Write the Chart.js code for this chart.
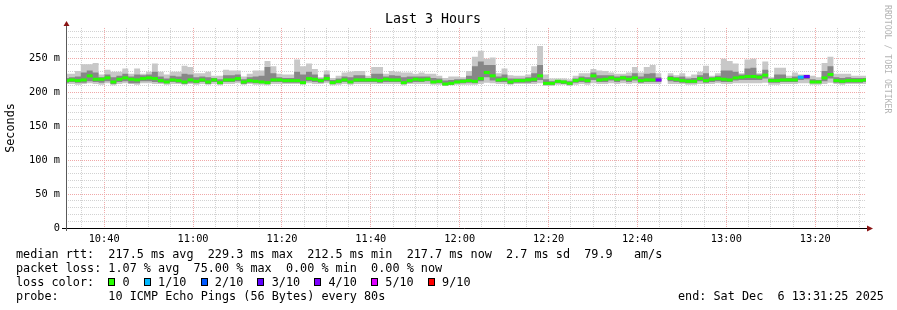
<!DOCTYPE html>
<html>
<head>
<meta charset="utf-8">
<title>Last 3 Hours</title>
<script src="https://cdn.jsdelivr.net/npm/chart.js@4.4.1/dist/chart.umd.min.js"></script>
<style>
  body { margin: 0; background: #fff; }
  #wrap { position: relative; width: 897px; height: 310px; overflow: hidden; }
  #graph { position: absolute; left: 0; top: 0; }
  .legend {
    position: absolute; left: 16px; top: 247px;
    font: 11.8px "DejaVu Sans Mono", monospace; line-height: 14px;
    white-space: pre; color: #000;
  }
  .box {
    display: inline-block; width: 7px; height: 8px; box-sizing: border-box;
    border: 1px solid #000; vertical-align: 0px; margin-right: calc(1ch - 7px);
  }
  .end {
    position: absolute; left: 678px; top: 289px;
    font: 11.8px "DejaVu Sans Mono", monospace; line-height: 14px;
    white-space: pre; color: #000;
  }
</style>
</head>
<body>
<div id="wrap">
  <canvas id="graph" width="897" height="310"></canvas>
  <div class="legend">median rtt:  217.5 ms avg  229.3 ms max  212.5 ms min  217.7 ms now  2.7 ms sd  79.9   am/s
packet loss: 1.07 % avg  75.00 % max  0.00 % min  0.00 % now
loss color:  <span class="box" style="background:#26ff00"></span> 0  <span class="box" style="background:#00b8ff"></span> 1/10  <span class="box" style="background:#0059ff"></span> 2/10  <span class="box" style="background:#5e00ff"></span> 3/10  <span class="box" style="background:#7e00ff"></span> 4/10  <span class="box" style="background:#dd00ff"></span> 5/10  <span class="box" style="background:#ff0000"></span> 9/10
probe:       10 ICMP Echo Pings (56 Bytes) every 80s</div>
  <div class="end">end: Sat Dec  6 13:31:25 2025</div>
</div>
<script>
// time window (seconds of the day), 80s steps
const startSec = 10 * 3600 + 31 * 60 + 25;   // 10:31:25
const endSec = startSec + 3 * 3600;          // 13:31:25
const stepSec = 80;
const binShift = -40;

// rtt in ms, one value per 80s step (null = no data)
const medianRtt = [
  217,218,217,218,224,219,219,221,215,219,221,219,218,220,221,220,217,215,218,217,215,218,216,218,215,218,214,218,218,220,215,217,216,
  215,214,218,218,217,217,217,214,220,219,217,220,214,216,218,215,218,218,218,218,217,219,218,218,214,217,219,218,219,215,216,212,213,215,
  216,217,216,220,229,224,218,219,215,217,217,218,219,224,213,213,216,215,213,217,219,217,224,218,219,221,219,221,219,221,217,218,218,218,
  null,
  220,219,217,216,216,220,217,219,220,219,218,221,222,223,223,222,225,217,217,218,218,218,222,223,215,215,221,226,217,216,217,217,217,218
];
const maxRtt = [
  227,227,231,241,241,243,226,233,230,230,235,227,235,227,230,242,230,226,230,230,239,237,228,228,230,224,224,233,232,232,223,227,232,
  232,246,238,227,226,226,248,238,242,234,222,232,221,224,229,230,231,231,224,237,237,227,231,230,229,229,227,229,227,227,224,221,223,223,
  222,231,252,261,249,251,228,235,225,224,224,226,238,268,226,220,220,220,219,224,228,228,234,232,231,229,227,227,229,237,229,237,240,228,
  null,
  228,225,228,223,226,230,239,224,228,249,246,242,228,248,249,228,245,222,236,236,224,229,226,226,224,222,243,252,227,227,227,224,224,224
];
const minRtt = [
  212,212,211,212,213,212,211,213,210,212,213,212,211,213,213,212,212,211,212,212,211,212,211,212,211,212,210,212,212,213,211,212,211,
  211,210,212,212,212,212,212,211,213,212,212,213,210,211,212,211,212,212,212,212,212,212,212,212,210,212,212,212,212,211,211,209,210,211,
  211,211,211,212,214,213,212,212,211,212,212,212,212,213,209,209,211,211,209,211,212,211,213,212,212,213,212,213,212,213,212,212,212,212,
  null,
  212,212,212,211,211,212,212,212,213,212,212,213,213,213,213,213,214,211,211,212,212,212,213,213,211,211,212,214,212,211,212,212,212,212
];
const upperRtt = [
  221,222,223,229,232,229,222,226,222,224,227,223,226,225,226,230,223,220,224,223,227,226,222,223,222,221,219,225,225,226,219,222,223,
  224,237,228,222,221,221,230,226,230,226,220,226,218,220,223,222,225,225,221,227,227,223,225,224,222,223,223,223,223,221,220,217,218,219,
  219,224,238,245,240,240,223,226,220,220,220,222,228,240,219,216,218,217,216,220,223,222,229,225,225,225,223,224,224,228,223,227,228,222,
  null,
  224,222,223,220,221,225,228,222,224,232,232,230,226,235,236,226,233,220,226,226,221,223,224,225,219,218,231,238,222,221,222,221,221,221
];
const lowerRtt = [
  214,215,214,214,216,215,214,216,212,215,216,213,213,216,216,215,214,213,215,214,212,214,213,215,212,215,212,215,215,216,212,214,213,
  213,212,215,215,214,214,214,212,216,215,214,216,212,213,215,213,215,215,215,215,214,215,215,215,212,214,215,215,216,213,213,210,211,213,
  213,214,213,216,222,217,215,215,212,214,214,214,215,218,211,211,213,212,211,214,215,214,218,215,215,217,215,217,215,217,214,215,215,215,
  null,
  216,215,214,213,213,216,214,215,216,215,215,217,218,218,218,218,220,214,214,215,215,215,218,219,213,213,216,220,214,213,214,214,214,215
];
// lost pings out of 10 per step
const lossTenths = [
  0,0,0,0,0,0,0,0,0,0,0,0,0,0,0,0,0,0,0,0,0,0,0,0,0,0,0,0,0,0,0,0,0,
  0,0,0,0,0,0,0,0,0,0,0,0,0,0,0,0,0,0,0,0,0,0,0,0,0,0,0,0,0,0,0,0,0,0,
  0,0,0,0,0,0,0,0,0,0,0,0,0,0,0,0,0,0,0,0,0,0,0,0,0,0,0,0,0,0,0,0,0,4,
  null,
  0,0,0,0,0,0,0,0,0,0,0,0,0,0,0,0,0,0,0,0,0,0,1,3,0,0,0,0,0,0,0,0,0,0
];
const lossColors = ['#26ff00', '#00b8ff', '#0059ff', '#5e00ff', '#7e00ff', '#dd00ff',
                    '#ff0000', '#ff0000', '#ff0000', '#ff0000', '#ff0000'];

const yTop = 294.5;
const mono = '"DejaVu Sans Mono", monospace';
const gridGray = '#d2d2d2';
const gridRed = '#f0a8a8';

// each step becomes a flat piece from its start to its end
function steps(values) {
  const pts = [];
  values.forEach((v, i) => {
    const x0 = startSec + binShift + i * stepSec;
    pts.push({ x: x0, y: v }, { x: x0 + stepSec, y: v });
  });
  return pts;
}
// median: separate flat pieces, no joins
function pieces(values) {
  const pts = [];
  values.forEach((v, i) => {
    const x0 = startSec + binShift + i * stepSec;
    pts.push({ x: x0, y: v }, { x: x0 + stepSec, y: v }, { x: x0 + stepSec, y: null });
  });
  return pts;
}

function hhmm(sec) {
  const h = Math.floor(sec / 3600), m = Math.floor(sec % 3600 / 60);
  return String(h).padStart(2, '0') + ':' + String(m).padStart(2, '0');
}

const clear = 'rgba(0,0,0,0)';

const axisArrows = {
  id: 'axisArrows',
  afterDraw(chart) {
    const { ctx, chartArea: a } = chart;
    const xl = Math.round(a.left) + 0.5;
    const yb = Math.round(a.bottom) + 0.5;
    ctx.save();
    ctx.lineWidth = 1;
    ctx.strokeStyle = '#000';
    ctx.beginPath();
    ctx.moveTo(a.left - 4, yb);
    ctx.lineTo(a.right + 1, yb);
    ctx.stroke();
    ctx.strokeStyle = '#5a5a5a';
    ctx.beginPath();
    ctx.moveTo(xl, a.bottom + 3);
    ctx.lineTo(xl, a.top - 2);
    ctx.stroke();
    ctx.fillStyle = '#8a1414';
    ctx.beginPath();
    ctx.moveTo(xl, a.top - 7);
    ctx.lineTo(xl - 3, a.top - 2);
    ctx.lineTo(xl + 3, a.top - 2);
    ctx.closePath();
    ctx.fill();
    ctx.beginPath();
    ctx.moveTo(a.right + 7, yb);
    ctx.lineTo(a.right + 1, yb - 3);
    ctx.lineTo(a.right + 1, yb + 3);
    ctx.closePath();
    ctx.fill();
    // watermark
    ctx.translate(887.5, 5);
    ctx.rotate(Math.PI / 2);
    ctx.font = '8.2px ' + mono;
    ctx.fillStyle = '#b4b4b4';
    ctx.textBaseline = 'middle';
    ctx.fillText('RRDTOOL / TOBI OETIKER', 0, 0);
    ctx.restore();
  }
};

new Chart(document.getElementById('graph'), {
  type: 'line',
  data: {
    datasets: [
      {
        label: 'median rtt',
        data: pieces(medianRtt),
        borderWidth: 3,
        borderCapStyle: 'butt',
        borderColor: lossColors[0],
        segment: {
          borderColor: c => lossColors[lossTenths[Math.floor(c.p0DataIndex / 3)]] || lossColors[0]
        },
        spanGaps: false,
        fill: false,
        order: 0
      },
      { label: 'min', data: steps(minRtt), borderColor: clear, borderWidth: 0, fill: false, order: 9 },
      { label: 'max', data: steps(maxRtt), borderColor: clear, borderWidth: 0,
        backgroundColor: '#c8c8c8', fill: 1, order: 8 },
      { label: 'lower', data: steps(lowerRtt), borderColor: clear, borderWidth: 0, fill: false, order: 9 },
      { label: 'upper', data: steps(upperRtt), borderColor: clear, borderWidth: 0,
        backgroundColor: '#878787', fill: 3, order: 7 }
    ]
  },
  options: {
    responsive: false,
    animation: false,
    devicePixelRatio: 1,
    events: [],
    layout: { padding: { left: 0, right: 31, top: 0, bottom: 0 } },
    elements: { point: { radius: 0 }, line: { tension: 0 } },
    plugins: {
      legend: { display: false },
      tooltip: { enabled: false },
      title: {
        display: true,
        text: 'Last 3 Hours',
        color: '#000',
        font: { family: mono, size: 13.3, weight: 'normal' },
        padding: { top: 12, bottom: 0 }
      }
    },
    scales: {
      x: {
        type: 'linear',
        min: startSec,
        max: endSec,
        afterBuildTicks: s => {
          const t = [];
          for (let v = Math.ceil(startSec / 300) * 300; v <= endSec; v += 300) t.push({ value: v });
          s.ticks = t;
        },
        afterFit: s => { s.height = 82; },
        ticks: {
          autoSkip: false, maxRotation: 0, padding: 5, color: '#000',
          font: { family: mono, size: 10.3 },
          callback: v => (v % 1200 === 0 ? hhmm(v) : '')
        },
        grid: {
          color: c => (c.tick && c.tick.value % 1200 === 0 ? gridRed : gridGray),
          drawTicks: false, z: 0
        },
        border: { display: false, dash: [1, 1] }
      },
      y: {
        min: 0,
        max: yTop,
        afterBuildTicks: s => {
          const t = [];
          for (let v = 0; v <= 290; v += 10) t.push({ value: v });
          s.ticks = t;
        },
        afterFit: s => { s.width = 66; },
        ticks: {
          autoSkip: false, padding: 6, color: '#000',
          font: { family: mono, size: 10.3 },
          callback: v => (v % 50 ? '' : (v ? v + ' m' : '0'))
        },
        grid: {
          color: c => (c.tick && c.tick.value % 50 === 0 ? gridRed : gridGray),
          drawTicks: false, z: 0
        },
        border: { display: false, dash: [1, 1] },
        title: {
          display: true, text: 'Seconds', color: '#000',
          font: { family: mono, size: 11.8 },
          padding: { top: 4, bottom: 0 }
        }
      }
    }
  },
  plugins: [axisArrows]
});
</script>
</body>
</html>
